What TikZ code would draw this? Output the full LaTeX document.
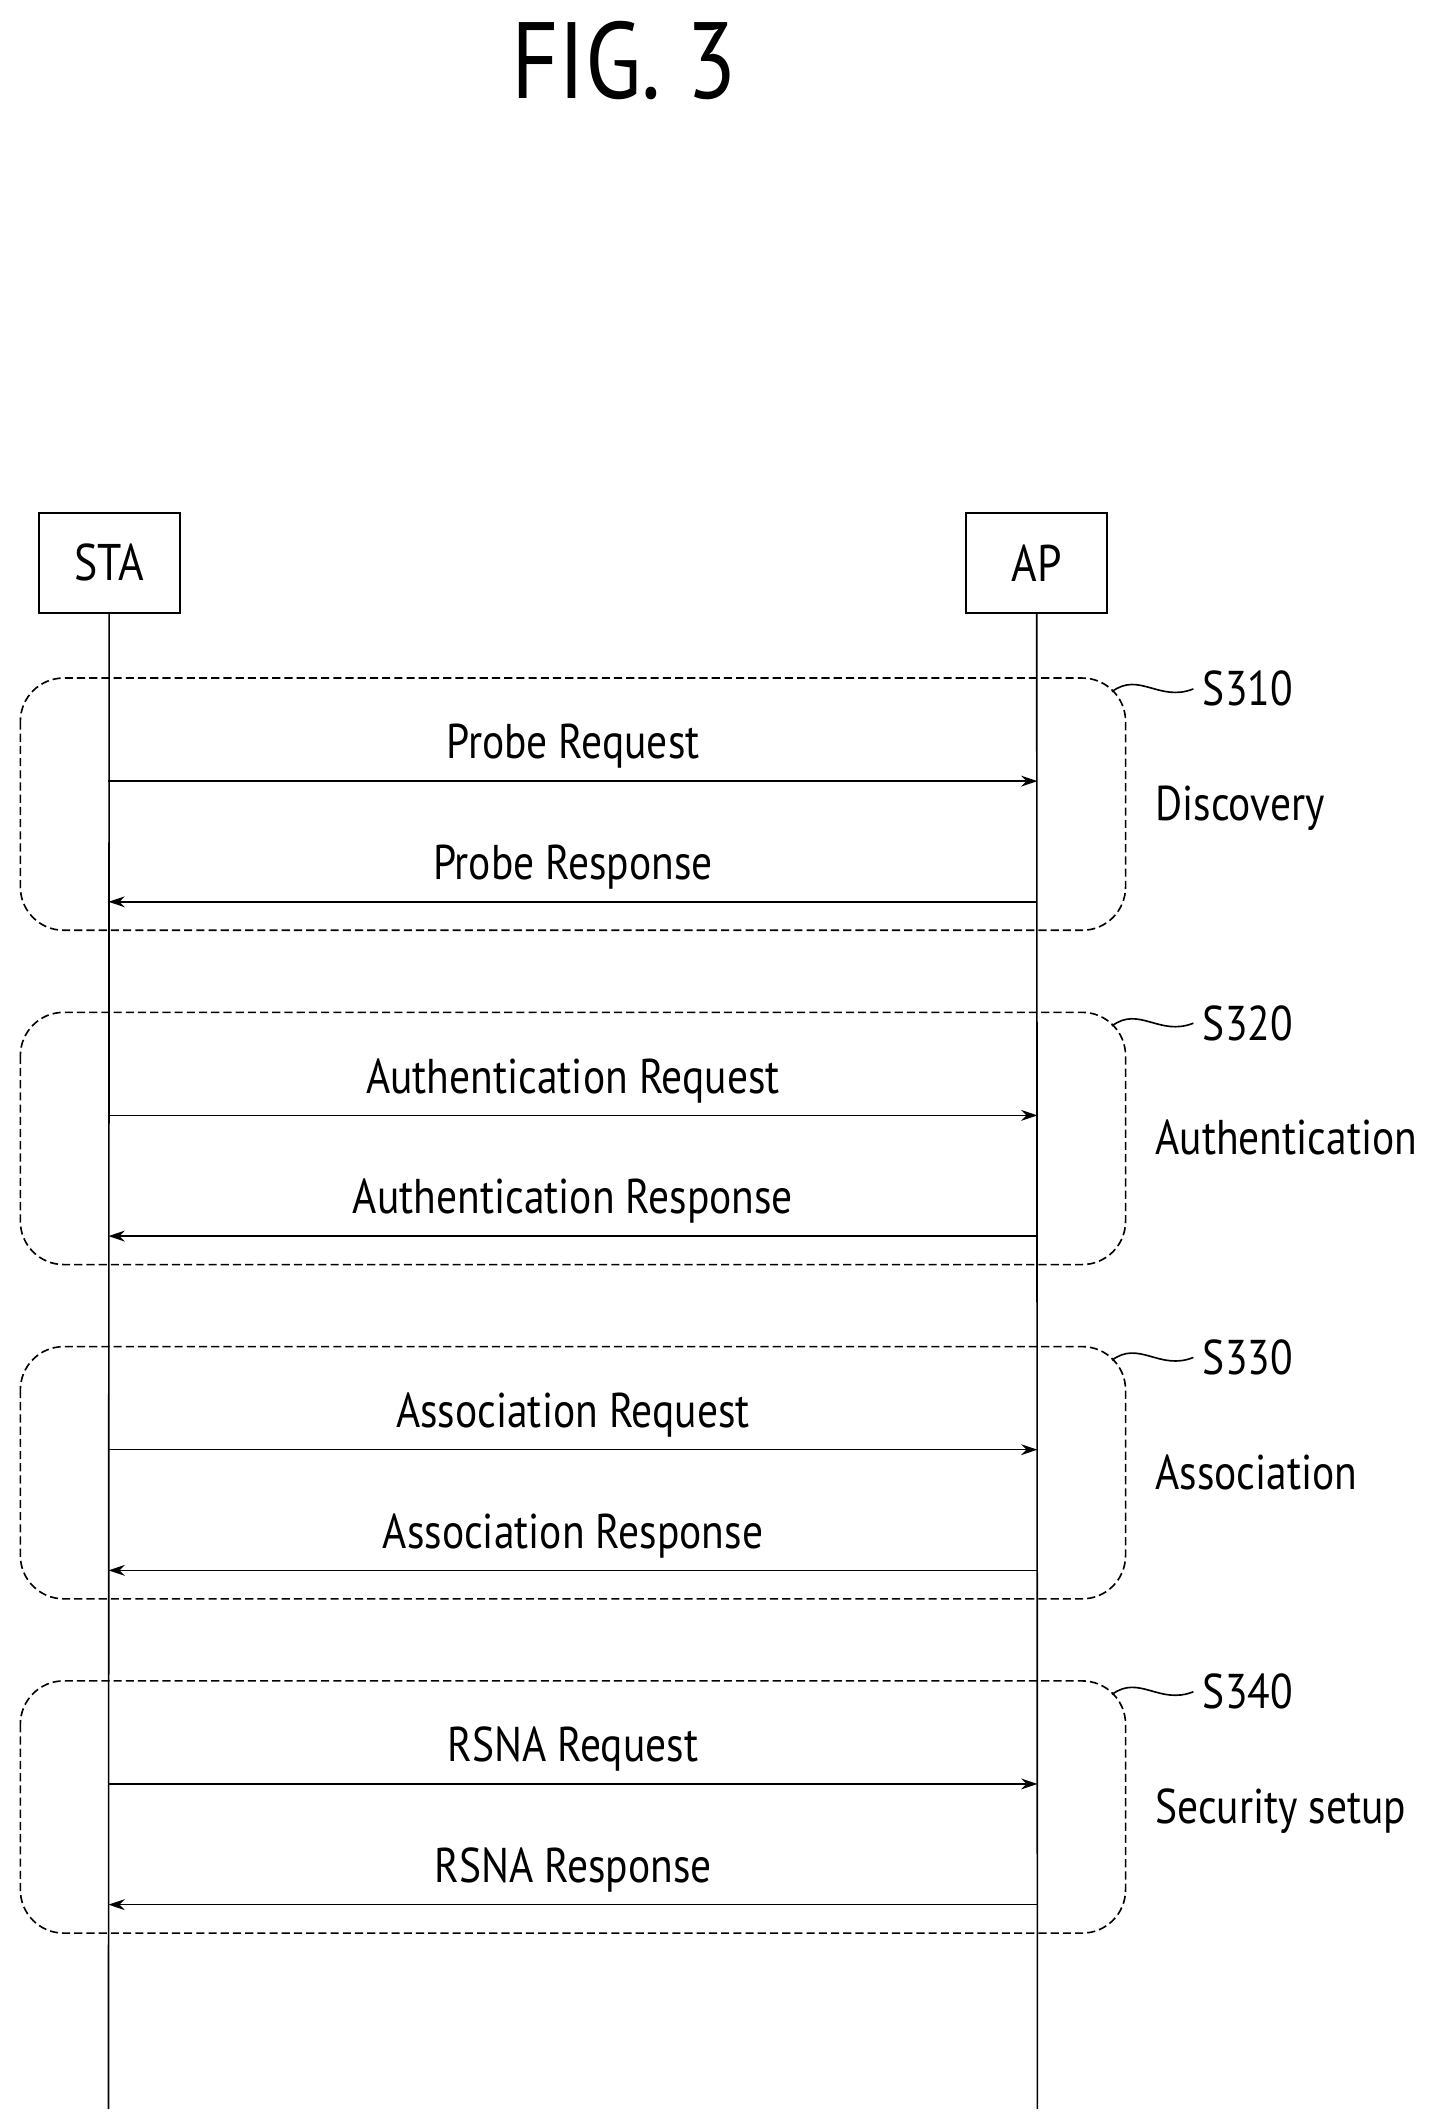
\documentclass[tikz,border=0pt]{standalone}
\usepackage{fontspec}
\setmainfont[FakeStretch=0.85]{PT Sans}
\usetikzlibrary{arrows.meta}
\begin{document}
\begin{tikzpicture}[x=0.5pt,y=-0.5pt,
  ent/.style={draw,line width=0.8pt,minimum width=52pt,minimum height=37pt,font=\fontsize{19}{22}\selectfont,inner sep=0},
  grp/.style={draw,dashed,dash pattern=on 3pt off 1.5pt,line width=0.6pt,rounded corners=16pt},
  msg/.style={line width=0.6pt,-{Stealth[length=6pt,width=4pt]}},
  lbl/.style={font=\fontsize{18}{20}\selectfont,anchor=base},
  side/.style={font=\fontsize{18}{20}\selectfont,anchor=base west},
  life/.style={line width=0.6pt}]
\useasboundingbox (0,0) rectangle (1070,1567);
\node[font=\fontsize{40}{44}\selectfont] (title) at (460,45) {FIG. 3};
\node[ent] (sta) at (80.5,415) {STA};
\node[ent] (ap) at (764.5,415) {AP};
\coordinate (staend) at (80,1555);
\coordinate (apend) at (765,1555);
\draw[life] (sta.south) -- (staend);
\draw[life] (ap.south) -- (apend);
\foreach \i/\s/\side/\req/\resp in {
  0/S310/Discovery/Probe Request/Probe Response,
  1/S320/Authentication/Authentication Request/Authentication Response,
  2/S330/Association/Association Request/Association Response,
  3/S340/Security setup/RSNA Request/RSNA Response}{
  \pgfmathsetmacro{\y}{500+246.5*\i}
  \draw[grp] (15,\y) rectangle (830,\y+186);
  \coordinate (ra\i) at (80,\y+76);
  \coordinate (rb\i) at (765,\y+76);
  \coordinate (sa\i) at (765,\y+165);
  \coordinate (sb\i) at (80,\y+165);
  \draw[msg] (ra\i) -- node[lbl,above=1pt] {\req} (rb\i);
  \draw[msg] (sa\i) -- node[lbl,above=1pt] {\resp} (sb\i);
  \node[side] (side\i) at (845,\y+105) {\side};
  \node[lbl,anchor=west] (step\i) at (880,\y+8) {\s};
  \coordinate (c\i) at (820,\y+10);
  \draw[line width=0.6pt] (c\i) .. controls (840,\y-5) and (855,\y+18) .. (step\i.west);
}
\end{tikzpicture}
\end{document}
